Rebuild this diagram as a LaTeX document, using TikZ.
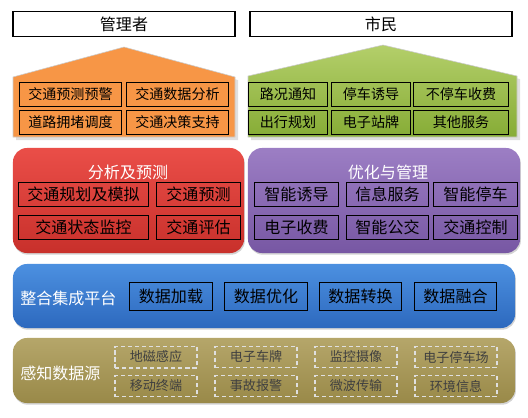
\documentclass[tikz,border=0pt]{standalone}
\usepackage{fontspec}
\newfontfamily\cjk{Noto Sans CJK SC}
\usepackage{tikz}
\usetikzlibrary{shadows}
\definecolor{orangeF}{HTML}{F79646}
\definecolor{greenT}{HTML}{B4CF6A}
\definecolor{greenB}{HTML}{86AC36}
\definecolor{redT}{HTML}{EA4E48}
\definecolor{redB}{HTML}{C8302B}
\definecolor{purpleT}{HTML}{9C7EC4}
\definecolor{purpleB}{HTML}{7757A3}
\definecolor{blueT}{HTML}{4C90E0}
\definecolor{blueB}{HTML}{2D69BE}
\definecolor{oliveT}{HTML}{B5A66A}
\definecolor{oliveB}{HTML}{998948}
\tikzstyle{titlebox} = [
rectangle, draw=black, thick, fill=white, minimum height=0.6cm,
text centered, font=\cjk\fontsize{11.4}{13}\selectfont
]
\tikzstyle{subbox} = [
rectangle, draw=black, line width=0.7pt, minimum height=0.58cm, inner sep=1pt,
text centered, font=\cjk\fontsize{10}{12}\selectfont
]
\tikzstyle{subbox_L} = [
rectangle, draw=black, line width=0.7pt, minimum height=0.6cm, inner sep=1pt,
text centered, font=\cjk\fontsize{11.4}{13}\selectfont
]
\tikzstyle{dashbox} = [
rectangle, draw=gray!25, dash pattern=on 3pt off 2pt, line width=1pt, minimum width=2.05cm, minimum height=0.5cm,
text=black!75, text centered, font=\cjk\fontsize{9.3}{11}\selectfont
]
\tikzstyle{panel} = [
rectangle, rounded corners=0.35cm, draw=none,
drop shadow={opacity=0.35, shadow xshift=0.6pt, shadow yshift=-1.2pt}
]
\tikzstyle{paneltitle} = [text=white, font=\cjk\fontsize{11.4}{13}\selectfont]

\begin{document}
\begin{tikzpicture}[x=0.025cm, y=-0.025cm]
			\useasboundingbox (0,0) rectangle (528,417);

			% Roofs
			\draw [black!20, fill=orangeF, drop shadow={opacity=0.25}] (13,137) -- (13,77) -- (124,47) -- (235,77) -- (235,137) -- cycle;
			\draw [black!20, top color=greenT, bottom color=greenB, drop shadow={opacity=0.25}] (248,137) -- (248,76) -- (383,45) -- (517,76) -- (517,137) -- cycle;

			% Nodes de usuarios
			\node (U_mgr) [titlebox, minimum width=5.55cm] at (124,24) {\raisebox{-2pt}{管理者}};
			\node (U_cit) [titlebox, minimum width=6.55cm] at (381,24) {\raisebox{-2pt}{市民}};

			\node (M_1) [subbox, minimum width=2.55cm] at (70.5,94.5) {交通预测预警};
			\node (M_2) [subbox, minimum width=2.55cm] at (177.5,94.5) {交通数据分析};
			\node (M_3) [subbox, minimum width=2.55cm] at (70.5,122.5) {道路拥堵调度};
			\node (M_4) [subbox, minimum width=2.55cm] at (177.5,122.5) {交通决策支持};

			\node (C_1) [subbox, minimum width=1.95cm] at (288,94.5) {路况通知};
			\node (C_2) [subbox, minimum width=1.95cm] at (371,94.5) {停车诱导};
			\node (C_3) [subbox, minimum width=2.35cm] at (461,94.5) {不停车收费};
			\node (C_4) [subbox, minimum width=1.95cm] at (288,122.5) {出行规划};
			\node (C_5) [subbox, minimum width=1.95cm] at (371,122.5) {电子站牌};
			\node (C_6) [subbox, minimum width=2.35cm] at (461,122.5) {其他服务};

			% Paineis
			\node (P_ana) [panel, top color=redT, bottom color=redB, minimum width=5.775cm, minimum height=2.625cm] at (128.5,200.5) {};
			\node (P_opt) [panel, top color=purpleT, bottom color=purpleB, minimum width=6.8cm, minimum height=2.625cm] at (384,200.5) {};
			\node (P_int) [panel, top color=blueT, bottom color=blueB, minimum width=12.55cm, minimum height=1.6cm] at (264,296) {};
			\node (P_sen) [panel, top color=oliveT, bottom color=oliveB, minimum width=12.55cm, minimum height=1.625cm] at (264,370.5) {};

			\node (T_ana) [paneltitle] at (128,172) {分析及预测};
			\node (T_opt) [paneltitle] at (388,172) {优化与管理};
			\node (T_int) [paneltitle, anchor=west, inner sep=0pt] at (20,298) {整合集成平台};
			\node (T_sen) [paneltitle, anchor=west, inner sep=0pt] at (20,373) {感知数据源};

			\node (A_1) [subbox_L, minimum width=3.225cm] at (83.5,194) {交通规划及模拟};
			\node (A_2) [subbox_L, minimum width=2.075cm] at (198.5,194) {交通预测};
			\node (A_3) [subbox_L, minimum width=3.225cm] at (83.5,227) {交通状态监控};
			\node (A_4) [subbox_L, minimum width=2.075cm] at (198.5,227) {交通评估};

			\node (O_1) [subbox_L, minimum width=2.075cm] at (296.5,194) {智能诱导};
			\node (O_2) [subbox_L, minimum width=2.025cm] at (387.5,194) {信息服务};
			\node (O_3) [subbox_L, minimum width=2.075cm] at (475.5,194) {智能停车};
			\node (O_4) [subbox_L, minimum width=2.075cm] at (296.5,227) {电子收费};
			\node (O_5) [subbox_L, minimum width=2.025cm] at (387.5,227) {智能公交};
			\node (O_6) [subbox_L, minimum width=2.075cm] at (475.5,227) {交通控制};

			\node (I_1) [subbox_L, minimum width=2.05cm, minimum height=0.7cm] at (171,296) {数据加载};
			\node (I_2) [subbox_L, minimum width=2.05cm, minimum height=0.7cm] at (266,296) {数据优化};
			\node (I_3) [subbox_L, minimum width=2.05cm, minimum height=0.7cm] at (360.5,296) {数据转换};
			\node (I_4) [subbox_L, minimum width=2.05cm, minimum height=0.7cm] at (455.5,296) {数据融合};

			\node (S_1) [dashbox] at (156,357) {地磁感应};
			\node (S_2) [dashbox] at (256,357) {电子车牌};
			\node (S_3) [dashbox] at (356,357) {监控摄像};
			\node (S_4) [dashbox] at (456,357) {电子停车场};
			\node (S_5) [dashbox] at (156,386) {移动终端};
			\node (S_6) [dashbox] at (256,386) {事故报警};
			\node (S_7) [dashbox] at (356,386) {微波传输};
			\node (S_8) [dashbox] at (456,386) {环境信息};

		\end{tikzpicture}
\end{document}
